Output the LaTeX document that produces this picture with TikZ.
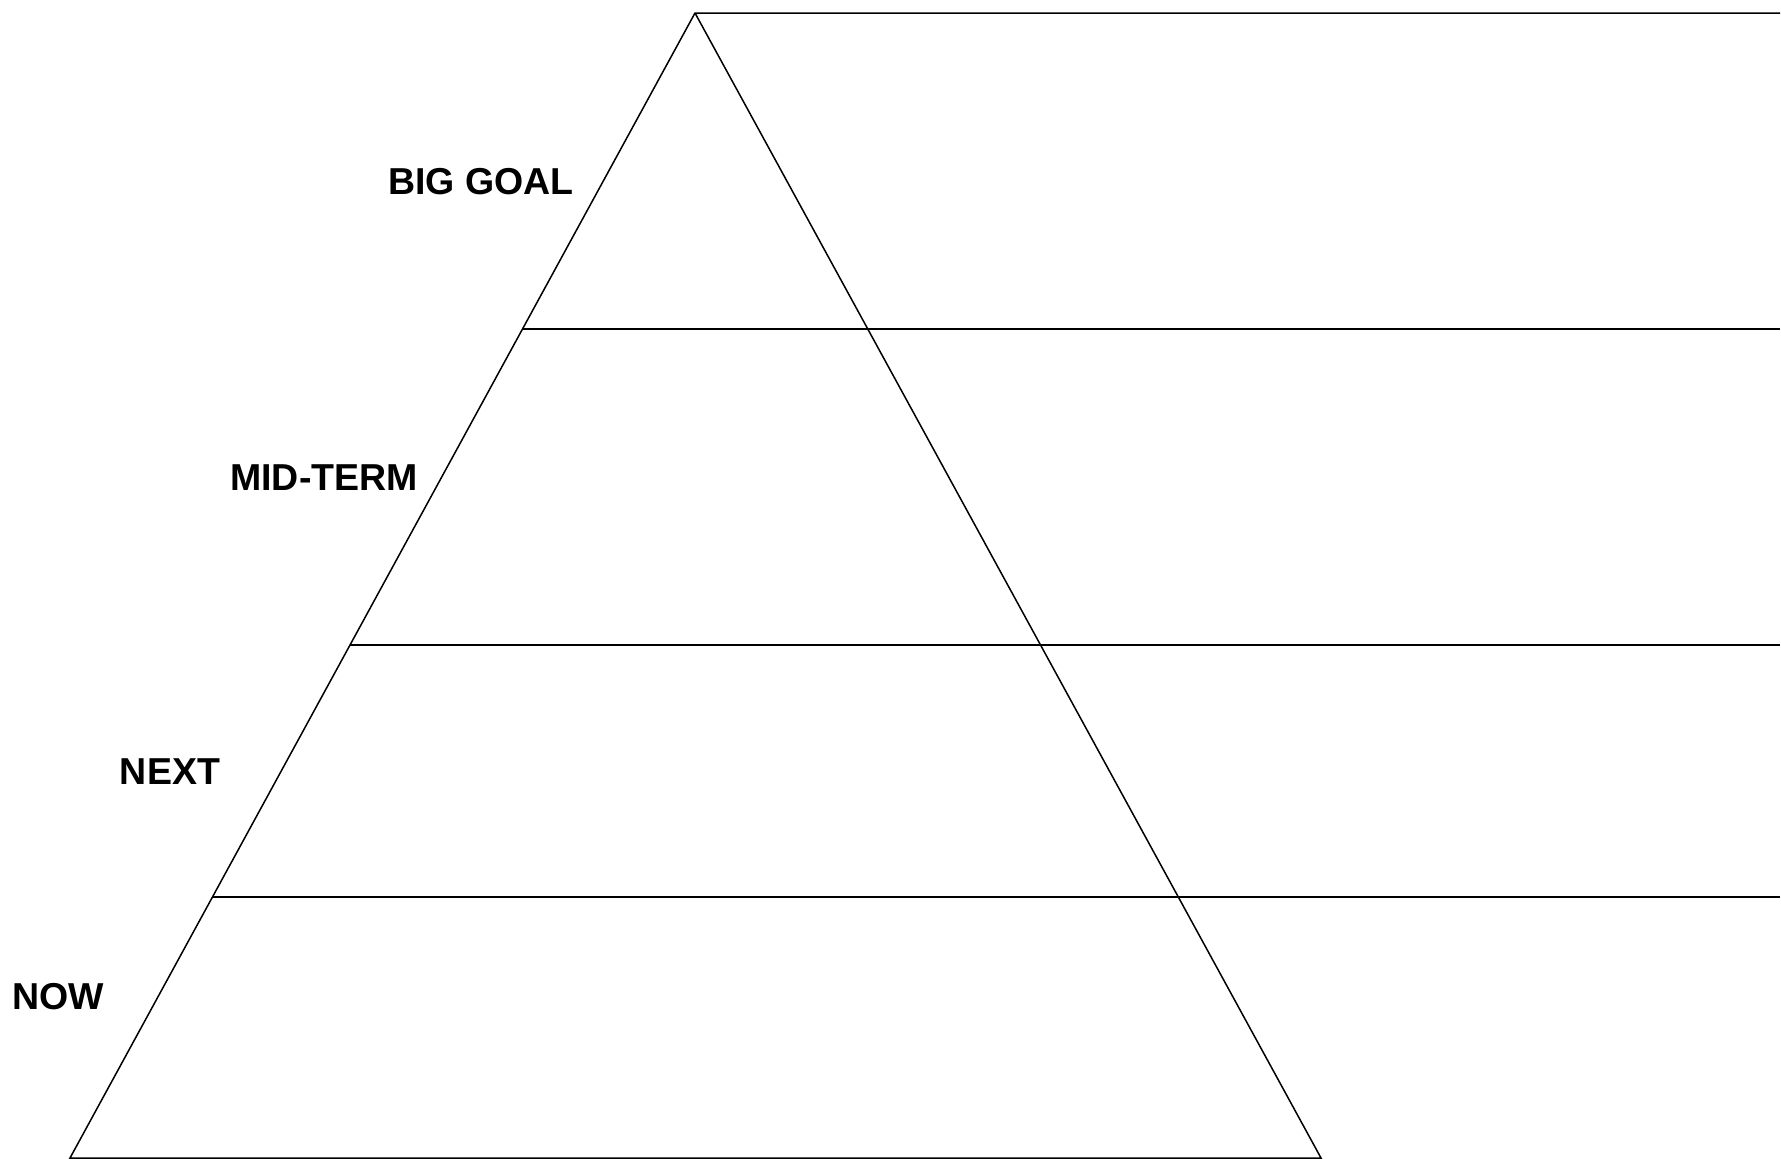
\documentclass[tikz,border=0pt]{standalone}
\usepackage{fontspec}
\setmainfont{Liberation Sans}
\usetikzlibrary{calc, positioning}

\begin{document}
\begin{tikzpicture}[x=1pt,y=-1pt]
        \useasboundingbox (0,0) rectangle (1781,1159);
        \tikzset{level/.style={font=\fontsize{37.5}{42}\selectfont\bfseries, inner sep=0pt}}
        % Corners
        \coordinate (apex) at (695,13);
        \coordinate (bl) at (70,1158);
        \coordinate (br) at (1321,1158);
        \coordinate (tr) at (1780,13);
        % Triangle
        \draw[line width=1.5pt, line join=miter] (tr) -- (apex) -- (bl) -- (br) -- (apex);
        % Levels
        \coordinate (l1) at ($(apex)!0.2760!(bl)$);
        \coordinate (l2) at ($(apex)!0.5520!(bl)$);
        \coordinate (l3) at ($(apex)!0.7721!(bl)$);
        \draw[line width=1.5pt] (l1) -- (l1 -| tr);
        \draw[line width=1.5pt] (l2) -- (l2 -| tr);
        \draw[line width=1.5pt] (l3) -- (l3 -| tr);
        % Labels
        \node[level] (goal) at (481,182) {BIG GOAL};
        \node[level] (mid) at (324,478) {MID-TERM};
        \node[level] (next) at (170,772) {NEXT};
        \node[level] (now) at (58,997) {NOW};
    \end{tikzpicture}
\end{document}
